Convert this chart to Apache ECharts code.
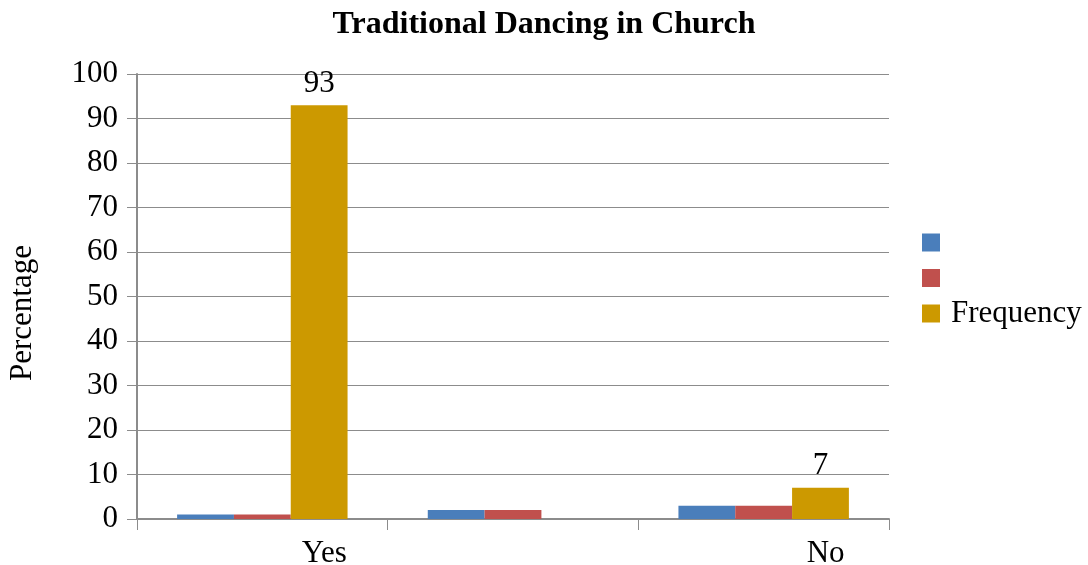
<!DOCTYPE html>
<html>
<head>
<meta charset="utf-8">
<script src="https://cdn.jsdelivr.net/npm/echarts@6/dist/echarts.min.js"></script>
<style>
  html, body { margin: 0; padding: 0; background: #fff; }
  #chart { width: 1088px; height: 565px; }
</style>
</head>
<body>
<div id="chart"></div>
<script>
// Survey answers: traditional dancing in church
const categories = ['Yes', '', 'No'];
const seriesNames = [' ', '  ', 'Frequency'];
const blueValues = [1, 2, 3];
const redValues = [1, 2, 3];
const frequencyValues = [93, null, 7];
const yTicks = { min: 0, max: 100, interval: 10 };

const FONT = '"Liberation Serif", "DejaVu Serif", serif';
const GRID_COLOR = '#8c8c8c';
const FS = 31;

const chart = echarts.init(document.getElementById('chart'), null, { renderer: 'canvas' });

chart.setOption({
  animation: false,
  backgroundColor: '#ffffff',
  textStyle: { fontFamily: FONT, color: '#000' },
  title: {
    text: 'Traditional Dancing in Church',
    left: 'center',
    top: 4,
    textStyle: { fontFamily: FONT, fontWeight: 'bold', fontSize: 32, color: '#000' }
  },
  legend: {
    orient: 'vertical',
    left: 917,
    top: 222,
    itemWidth: 18,
    itemHeight: 18,
    itemGap: 4.5,
    icon: 'rect',
    data: seriesNames,
    textStyle: { fontFamily: FONT, fontSize: FS, color: '#000', padding: [0, 0, 0, 6] }
  },
  grid: {
    left: 137, right: 199, top: 74, bottom: 46,
    containLabel: false, outerBoundsMode: 'none'
  },
  xAxis: {
    type: 'category',
    data: categories,
    axisLine: { show: true, lineStyle: { color: GRID_COLOR, width: 2 } },
    axisTick: { show: true, length: 11, alignWithLabel: false, lineStyle: { color: GRID_COLOR, width: 1 } },
    axisLabel: {
      fontFamily: FONT, fontSize: FS, color: '#000', margin: 19,
      padding: [0, 0, 0, 124], interval: 0
    }
  },
  yAxis: {
    type: 'value',
    min: yTicks.min,
    max: yTicks.max,
    interval: yTicks.interval,
    axisLine: { show: true, lineStyle: { color: GRID_COLOR, width: 2 } },
    axisTick: { show: true, inside: false, length: 10, lineStyle: { color: GRID_COLOR, width: 1 } },
    axisLabel: { fontFamily: FONT, fontSize: FS, color: '#000', margin: 19 },
    splitLine: { show: true, lineStyle: { color: GRID_COLOR, width: 1 } }
  },
  graphic: [{
    type: 'text',
    left: 7,
    top: 245,
    rotation: Math.PI / 2,
    style: { text: 'Percentage', fontFamily: FONT, fontSize: FS, fill: '#000' }
  }],
  series: [
    {
      name: seriesNames[0], type: 'bar', data: blueValues,
      barGap: '0%', barCategoryGap: '32%',
      itemStyle: { color: '#4a7ebb' }
    },
    {
      name: seriesNames[1], type: 'bar', data: redValues,
      barGap: '0%', barCategoryGap: '32%',
      itemStyle: { color: '#c0504d' }
    },
    {
      name: seriesNames[2], type: 'bar', data: frequencyValues,
      barGap: '0%', barCategoryGap: '32%',
      itemStyle: { color: '#cc9900' },
      label: {
        show: true, position: 'top', distance: 6,
        fontFamily: FONT, fontSize: FS, color: '#000'
      }
    }
  ]
});
</script>
</body>
</html>
